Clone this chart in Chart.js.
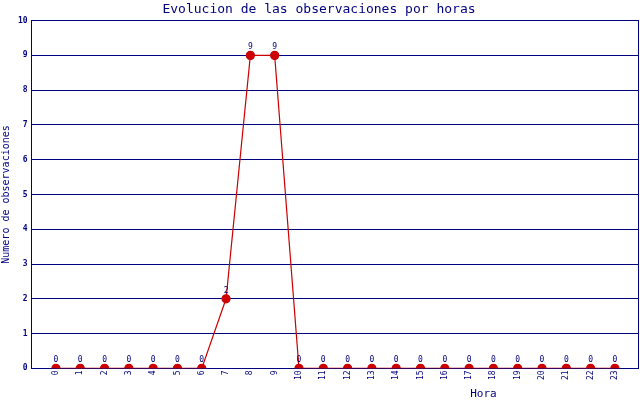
<!DOCTYPE html>
<html>
<head>
<meta charset="utf-8">
<script src="https://cdn.jsdelivr.net/npm/chart.js@4"></script>
<style>
  body { margin: 0; background: #fff; }
  #wrap { width: 640px; height: 400px; }
</style>
</head>
<body>
<div id="wrap"><canvas id="grafico"></canvas></div>
<script>
const horas = [0, 1, 2, 3, 4, 5, 6, 7, 8, 9, 10, 11, 12, 13, 14, 15, 16, 17, 18, 19, 20, 21, 22, 23]
const observaciones = [0, 0, 0, 0, 0, 0, 0, 2, 9, 9, 0, 0, 0, 0, 0, 0, 0, 0, 0, 0, 0, 0, 0, 0]
const ticksY = [0, 1, 2, 3, 4, 5, 6, 7, 8, 9, 10]

const azul = '#000080'
const rojo = '#cc0000'
const fuente = "'DejaVu Sans Mono', 'Liberation Mono', monospace"

// etiqueta de valor encima de cada punto
const etiquetasPuntos = {
    id: 'etiquetasPuntos',
    afterDatasetsDraw(chart) {
        const ctx = chart.ctx
        const meta = chart.getDatasetMeta(0)
        ctx.save()
        ctx.fillStyle = azul
        ctx.font = `8px ${fuente}`
        ctx.textAlign = 'center'
        ctx.textBaseline = 'bottom'
        meta.data.forEach((punto, i) => {
            ctx.fillText(observaciones[i], punto.x, punto.y - 4)
        })
        ctx.restore()
    }
}

// titulo del eje x desplazado a la derecha, como en el original
const tituloHora = {
    id: 'tituloHora',
    afterDraw(chart) {
        const { ctx, chartArea } = chart
        ctx.save()
        ctx.fillStyle = azul
        ctx.font = `11px ${fuente}`
        ctx.textAlign = 'center'
        ctx.textBaseline = 'middle'
        ctx.fillText('Hora', chartArea.left + (chartArea.right - chartArea.left) * 0.745, 394)
        ctx.restore()
    }
}

const ctx = document.getElementById('grafico').getContext('2d')
const grafico = new Chart(ctx, {
    type: 'line',
    data: {
        datasets: [{
            label: 'Observaciones',
            data: horas.map((h, i) => ({ x: h, y: observaciones[i] })),
            borderColor: rojo,
            backgroundColor: rojo,
            borderWidth: 1.2,
            pointRadius: 4,
            pointHoverRadius: 4,
            pointBackgroundColor: rojo,
            pointBorderColor: rojo,
            tension: 0
        }]
    },
    options: {
        responsive: true,
        maintainAspectRatio: false,
        animation: false,
        layout: { autoPadding: false, padding: { left: 0, right: 2, top: 0, bottom: 18 } },
        plugins: {
            legend: { display: false },
            tooltip: { enabled: false },
            title: {
                display: true,
                text: 'Evolucion de las observaciones por horas',
                color: azul,
                font: { family: fuente, size: 13, weight: 'normal' },
                padding: { top: 2, bottom: 3 }
            }
        },
        scales: {
            x: {
                type: 'linear',
                min: -1,
                max: 23.95,
                afterBuildTicks: (scale) => {
                    scale.ticks = horas.map(h => ({ value: h }))
                },
                afterFit: (scale) => { scale.paddingRight = 0 },
                ticks: {
                    color: azul,
                    font: { family: fuente, size: 8 },
                    maxRotation: 90,
                    minRotation: 90,
                    padding: 2,
                    callback: (v) => v
                },
                grid: { display: false, drawTicks: false },
                border: { color: azul, width: 1 }
            },
            y: {
                min: 0,
                max: 10,
                afterBuildTicks: (scale) => {
                    scale.ticks = ticksY.map(v => ({ value: v }))
                },
                ticks: {
                    color: azul,
                    font: { family: fuente, size: 8, weight: 'bold' },
                    padding: 4
                },
                grid: { color: azul, lineWidth: 1, drawTicks: false },
                border: { color: azul, width: 1 },
                title: {
                    display: true,
                    text: 'Numero de observaciones',
                    color: azul,
                    font: { family: fuente, size: 10 },
                    padding: { top: 0, bottom: 2 }
                }
            },
            derecha: {
                position: 'right',
                min: 0,
                max: 10,
                afterFit: (scale) => { scale.width = 0 },
                ticks: { display: false },
                grid: { display: false, drawTicks: false },
                border: { color: azul, width: 1 }
            }
        }
    },
    plugins: [etiquetasPuntos, tituloHora]
})
</script>
</body>
</html>
